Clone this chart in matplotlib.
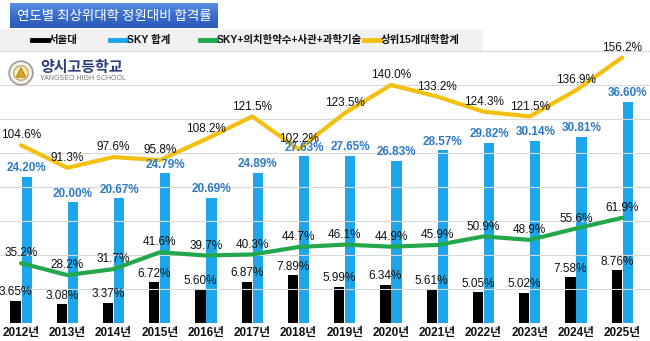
import matplotlib
matplotlib.use("Agg")

import numpy as np
import matplotlib.pyplot as plt
from matplotlib.lines import Line2D
from matplotlib.patches import Rectangle, Circle, Polygon

plt.rcParams["font.family"] = ["Liberation Sans Narrow", "Liberation Sans", "Noto Sans CJK KR"]
plt.rcParams["axes.unicode_minus"] = False

# -----------------------------
# Data
# -----------------------------
years = ["2012년", "2013년", "2014년", "2015년", "2016년", "2017년", "2018년",
         "2019년", "2020년", "2021년", "2022년", "2023년", "2024년", "2025년"]
snu = [3.65, 3.08, 3.37, 6.72, 5.60, 6.87, 7.89, 5.99, 6.34, 5.61, 5.05, 5.02, 7.58, 8.76]
sky = [24.20, 20.00, 20.67, 24.79, 20.69, 24.89, 27.63, 27.65, 26.83, 28.57, 29.82, 30.14, 30.81, 36.60]
sky_med = [35.2, 28.2, 31.7, 41.6, 39.7, 40.3, 44.7, 46.1, 44.9, 45.9, 50.9, 48.9, 55.6, 61.9]
top15 = [104.6, 91.3, 97.6, 95.8, 108.2, 121.5, 102.2, 123.5, 140.0, 133.2, 124.3, 121.5, 136.9, 156.2]

legend_names = ["서울대", "SKY 합계", "SKY+의치한약수+사관+과학기술", "상위15개대학합계"]
title_text = "연도별 최상위대학 정원대비 합격률"

C_BLACK = "#000000"
C_BLUE = "#1ea6ea"
C_BLUE_TXT = "#2f7ac6"
C_GREEN = "#22a84a"
C_YELLOW = "#f3c010"

W, H = 650, 341
fig = plt.figure(figsize=(W / 100, H / 100), dpi=100)


def fx(px):
    return px / W


def fy(py):
    return 1 - py / H


# axes area: bottom at y=323px, top at y=17px
ax = fig.add_axes([0, fy(323), 1, (323 - 17) / H])
ax2 = ax.twinx()

x = np.arange(len(years))
bw = 0.22
off = 0.12

ax.bar(x - off, snu, width=bw, color=C_BLACK, zorder=2)
ax.bar(x + off, sky, width=bw, color=C_BLUE, zorder=2)
ax.set_ylim(0, 50.66)
ax.set_xlim(-0.455, 13.6)

ax2.plot(x, sky_med, color=C_GREEN, lw=3.0, solid_capstyle="round", zorder=3)
ax2.plot(x, top15, color=C_YELLOW, lw=3.0, solid_capstyle="round", zorder=3)
ax2.set_ylim(0, 180)
ax2.set_yticks(np.arange(0, 161, 20))
ax2.grid(axis="y", color="#d9d9d9", lw=0.8, zorder=0)
ax2.set_axisbelow(True)

for a in (ax, ax2):
    for s in a.spines.values():
        s.set_visible(False)
    a.tick_params(axis="y", left=False, right=False, labelleft=False, labelright=False)

ax.set_xticks(x)
ax.set_xticklabels(years, fontsize=8.5, fontweight="bold", color="#111111")
ax.tick_params(axis="x", length=0, pad=3)
ax2.tick_params(axis="x", length=0)

# value labels (all placed on ax2 so they sit above the lines)
for i in range(len(years)):
    ax2.annotate(f"{snu[i]:.2f}%", (x[i] - off, snu[i]), xycoords=ax.transData,
                 xytext=(0, 4), textcoords="offset points", ha="center", va="baseline",
                 fontsize=8.5, color="#111111", zorder=5)
    ax2.annotate(f"{sky[i]:.2f}%", (x[i] + off, sky[i]), xycoords=ax.transData,
                 xytext=(0, 4), textcoords="offset points", ha="center", va="baseline",
                 fontsize=8.5, fontweight="bold", color=C_BLUE_TXT, zorder=5)
    ax2.annotate(f"{sky_med[i]:.1f}%", (x[i], sky_med[i]),
                 xytext=(0, 5), textcoords="offset points", ha="center", va="baseline",
                 fontsize=8.5, color="#111111", zorder=5)
    ax2.annotate(f"{top15[i]:.1f}%", (x[i], top15[i]),
                 xytext=(0, 5), textcoords="offset points", ha="center", va="baseline",
                 fontsize=8.5, color="#111111", zorder=5)

# title banner with vertical gradient
tax = fig.add_axes([fx(10), fy(28), fx(208), (28 - 3) / H])
grad = np.linspace(0, 1, 64).reshape(-1, 1)
tax.imshow(grad, aspect="auto", cmap=matplotlib.colors.LinearSegmentedColormap.from_list(
    "banner", ["#5a8ee4", "#3a6ccc", "#2c5bb6"]), extent=(0, 1, 0, 1))
tax.set_xlim(0, 1)
tax.set_ylim(0, 1)
tax.axis("off")
tax.text(0.5, 0.48, title_text, ha="center", va="center", color="white",
         fontsize=9.7, family=["Noto Sans CJK KR"])

# legend band
fig.patches.append(Rectangle((0, fy(51)), fx(483), (51 - 29) / H, transform=fig.transFigure,
                             facecolor="#f1f1f1", edgecolor="none", zorder=4))
legend_cols = [C_BLACK, C_BLUE, C_GREEN, C_YELLOW]
legend_x = [32, 110, 200, 364]
for name, col, lx in zip(legend_names, legend_cols, legend_x):
    fig.add_artist(Line2D([fx(lx), fx(lx + 16)], [fy(40), fy(40)], color=col, lw=3.5,
                          transform=fig.transFigure, zorder=5))
    fig.text(fx(lx + 17), fy(40), name, ha="left", va="center", fontsize=7.5,
             fontweight="bold", color="#111111", zorder=5)

# school logo
lax = fig.add_axes([fx(6), fy(86), fx(30), (86 - 60) / H])
lax.set_xlim(-1.1, 1.1)
lax.set_ylim(-1.1, 1.1)
lax.set_aspect("equal")
lax.axis("off")
lax.add_patch(Circle((0, 0), 1.0, facecolor="#f4f1ea", edgecolor="#9a9a9a", lw=1.2))
lax.add_patch(Circle((0, 0), 0.62, facecolor="#f7e7b0", edgecolor="#b8a070", lw=0.8))
lax.add_patch(Polygon([(-0.4, -0.35), (0.4, -0.35), (0, 0.45)], closed=True,
                      facecolor="#d9a520", edgecolor="#a67c10", lw=0.6))
fig.text(fx(40), fy(67), "양시고등학교", ha="left", va="center", fontsize=10.8,
         fontweight="bold", color="#2b3f80", family=["Noto Sans CJK KR"])
fig.text(fx(40), fy(79), "YANGSEO HIGH SCHOOL", ha="left", va="center", fontsize=5.0,
         color="#777777", family=["Liberation Sans", "DejaVu Sans"])

fig.savefig("out.png", dpi=100)
